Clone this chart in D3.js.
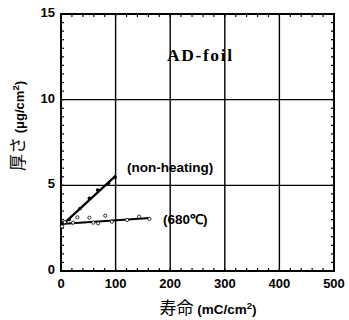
<!DOCTYPE html>
<html>
<head>
<meta charset="utf-8">
<script src="https://cdn.jsdelivr.net/npm/d3@7"></script>
<style>
  body { margin: 0; background: #fff; }
  svg { display: block; }
  .cjk { opacity: 0.99; }
</style>
</head>
<body>
<svg id="chart" width="349" height="320"></svg>
<script>
// --- data ---
const xTicks = [0, 100, 200, 300, 400, 500];
const yTicks = [0, 5, 10, 15];

// non-heating (filled dots)
const nonHeatX = [1, 3, 15, 35, 52, 67, 87, 99];
const nonHeatY = [2.65, 2.8, 3.0, 3.65, 4.24, 4.73, 5.12, 5.47];
const nonHeatFit = [[8, 2.85], [100, 5.55]];

// 680°C (open circles)
const heatX = [2, 7, 22, 30, 52, 59, 68, 81, 93, 121, 143, 162];
const heatY = [2.6, 2.85, 2.82, 3.13, 3.11, 2.82, 2.78, 3.23, 2.88, 2.98, 3.17, 3.04];
const heatFit = [[0, 2.75], [163, 3.1]];

const svg = d3.select("#chart");
const margin = { top: 14, right: 15, bottom: 49, left: 61 };
const innerWidth = 334 - margin.left;
const innerHeight = 271 - margin.top;

const g = svg.append("g")
  .attr("transform", `translate(${margin.left},${margin.top})`);

const x = d3.scaleLinear().domain([0, 500]).range([0, innerWidth]);
const y = d3.scaleLinear().domain([0, 15]).range([innerHeight, 0]);

// grid lines at major ticks
g.selectAll(".gx")
  .data(xTicks.slice(1, -1))
  .enter().append("line")
  .attr("x1", d => x(d)).attr("x2", d => x(d))
  .attr("y1", 0).attr("y2", innerHeight)
  .attr("stroke", "#000").attr("stroke-width", 1.4);

g.selectAll(".gy")
  .data(yTicks.slice(1, -1))
  .enter().append("line")
  .attr("x1", 0).attr("x2", innerWidth)
  .attr("y1", d => y(d)).attr("y2", d => y(d))
  .attr("stroke", "#000").attr("stroke-width", 1.4);

// minor ticks, inward on all sides
const minorX = d3.range(0, 501, 20);
const minorY = d3.range(0, 15.01, 0.5);
const tickLen = 3;

g.append("g").selectAll("line").data(minorX).enter().append("line")
  .attr("x1", d => x(d)).attr("x2", d => x(d))
  .attr("y1", innerHeight).attr("y2", innerHeight - tickLen)
  .attr("stroke", "#000").attr("stroke-width", 1.2);
g.append("g").selectAll("line").data(minorX).enter().append("line")
  .attr("x1", d => x(d)).attr("x2", d => x(d))
  .attr("y1", 0).attr("y2", tickLen)
  .attr("stroke", "#000").attr("stroke-width", 1.2);
g.append("g").selectAll("line").data(minorY).enter().append("line")
  .attr("x1", 0).attr("x2", tickLen)
  .attr("y1", d => y(d)).attr("y2", d => y(d))
  .attr("stroke", "#000").attr("stroke-width", 1.2);
g.append("g").selectAll("line").data(minorY).enter().append("line")
  .attr("x1", innerWidth).attr("x2", innerWidth - tickLen)
  .attr("y1", d => y(d)).attr("y2", d => y(d))
  .attr("stroke", "#000").attr("stroke-width", 1.2);

// frame
g.append("rect")
  .attr("width", innerWidth).attr("height", innerHeight)
  .attr("fill", "none").attr("stroke", "#000").attr("stroke-width", 2);

// tick labels
const tickFont = "'Liberation Sans', Arial, sans-serif";
g.selectAll(".xl").data(xTicks).enter().append("text")
  .attr("x", d => x(d)).attr("y", innerHeight + 17)
  .attr("text-anchor", "middle")
  .style("font-family", tickFont).style("font-weight", "bold")
  .style("font-size", "13px").attr("fill", "#000")
  .text(d => d);

g.selectAll(".yl").data(yTicks).enter().append("text")
  .attr("x", -6).attr("y", d => y(d) + 3)
  .attr("text-anchor", "end")
  .style("font-family", tickFont).style("font-weight", "bold")
  .style("font-size", "13px").attr("fill", "#000")
  .text(d => d);

// fit lines
const line = d3.line().x(d => x(d[0])).y(d => y(d[1]));
g.append("path").datum(nonHeatFit).attr("d", line)
  .attr("fill", "none").attr("stroke", "#000").attr("stroke-width", 2.2);
g.append("path").datum(heatFit).attr("d", line)
  .attr("fill", "none").attr("stroke", "#000").attr("stroke-width", 2);

// points
g.selectAll(".nh").data(nonHeatX).enter().append("circle")
  .attr("cx", d => x(d)).attr("cy", (d, i) => y(nonHeatY[i]))
  .attr("r", 1.8).attr("fill", "#000");

g.selectAll(".ht").data(heatX).enter().append("circle")
  .attr("cx", d => x(d)).attr("cy", (d, i) => y(heatY[i]))
  .attr("r", 1.6).attr("fill", "#fff")
  .attr("stroke", "#000").attr("stroke-width", 0.8);

// annotations
g.append("text")
  .attr("x", 106).attr("y", 47)
  .style("font-family", "'Liberation Serif', 'Times New Roman', serif")
  .style("font-weight", "bold").style("font-size", "17.5px")
  .style("letter-spacing", "1.6px").attr("fill", "#000")
  .text("AD-foil");

g.append("text")
  .attr("x", 66).attr("y", 158)
  .style("font-family", tickFont).style("font-size", "13.5px")
  .style("font-weight", "bold").attr("fill", "#000")
  .text("(non-heating)");

g.append("text")
  .attr("x", 102).attr("y", 210)
  .style("font-family", tickFont).style("font-size", "13.5px")
  .style("font-weight", "bold").attr("fill", "#000")
  .text("(680℃)");

// axis titles
svg.append("text")
  .attr("class", "cjk")
  .attr("x", 208).attr("y", 314)
  .attr("text-anchor", "middle").attr("fill", "#000")
  .style("font-family", "'Noto Sans CJK JP', sans-serif")
  .style("font-size", "17px")
  .html("寿命 <tspan style=\"font-family: 'Liberation Sans', Arial, sans-serif; font-weight: bold; font-size: 13.5px\">(mC/cm<tspan dy=\"-5\" font-size=\"9.5\">2</tspan><tspan dy=\"5\">)</tspan></tspan>");

svg.append("text")
  .attr("class", "cjk")
  .attr("transform", "translate(24,126) rotate(-90)")
  .attr("text-anchor", "middle").attr("fill", "#000")
  .style("font-family", "'Noto Sans CJK JP', sans-serif")
  .style("font-size", "17px")
  .html("厚さ <tspan style=\"font-family: 'Liberation Sans', Arial, sans-serif; font-weight: bold; font-size: 13px\">(μg/cm<tspan dy=\"-5\" font-size=\"9.5\">2</tspan><tspan dy=\"5\">)</tspan></tspan>");
</script>
</body>
</html>
